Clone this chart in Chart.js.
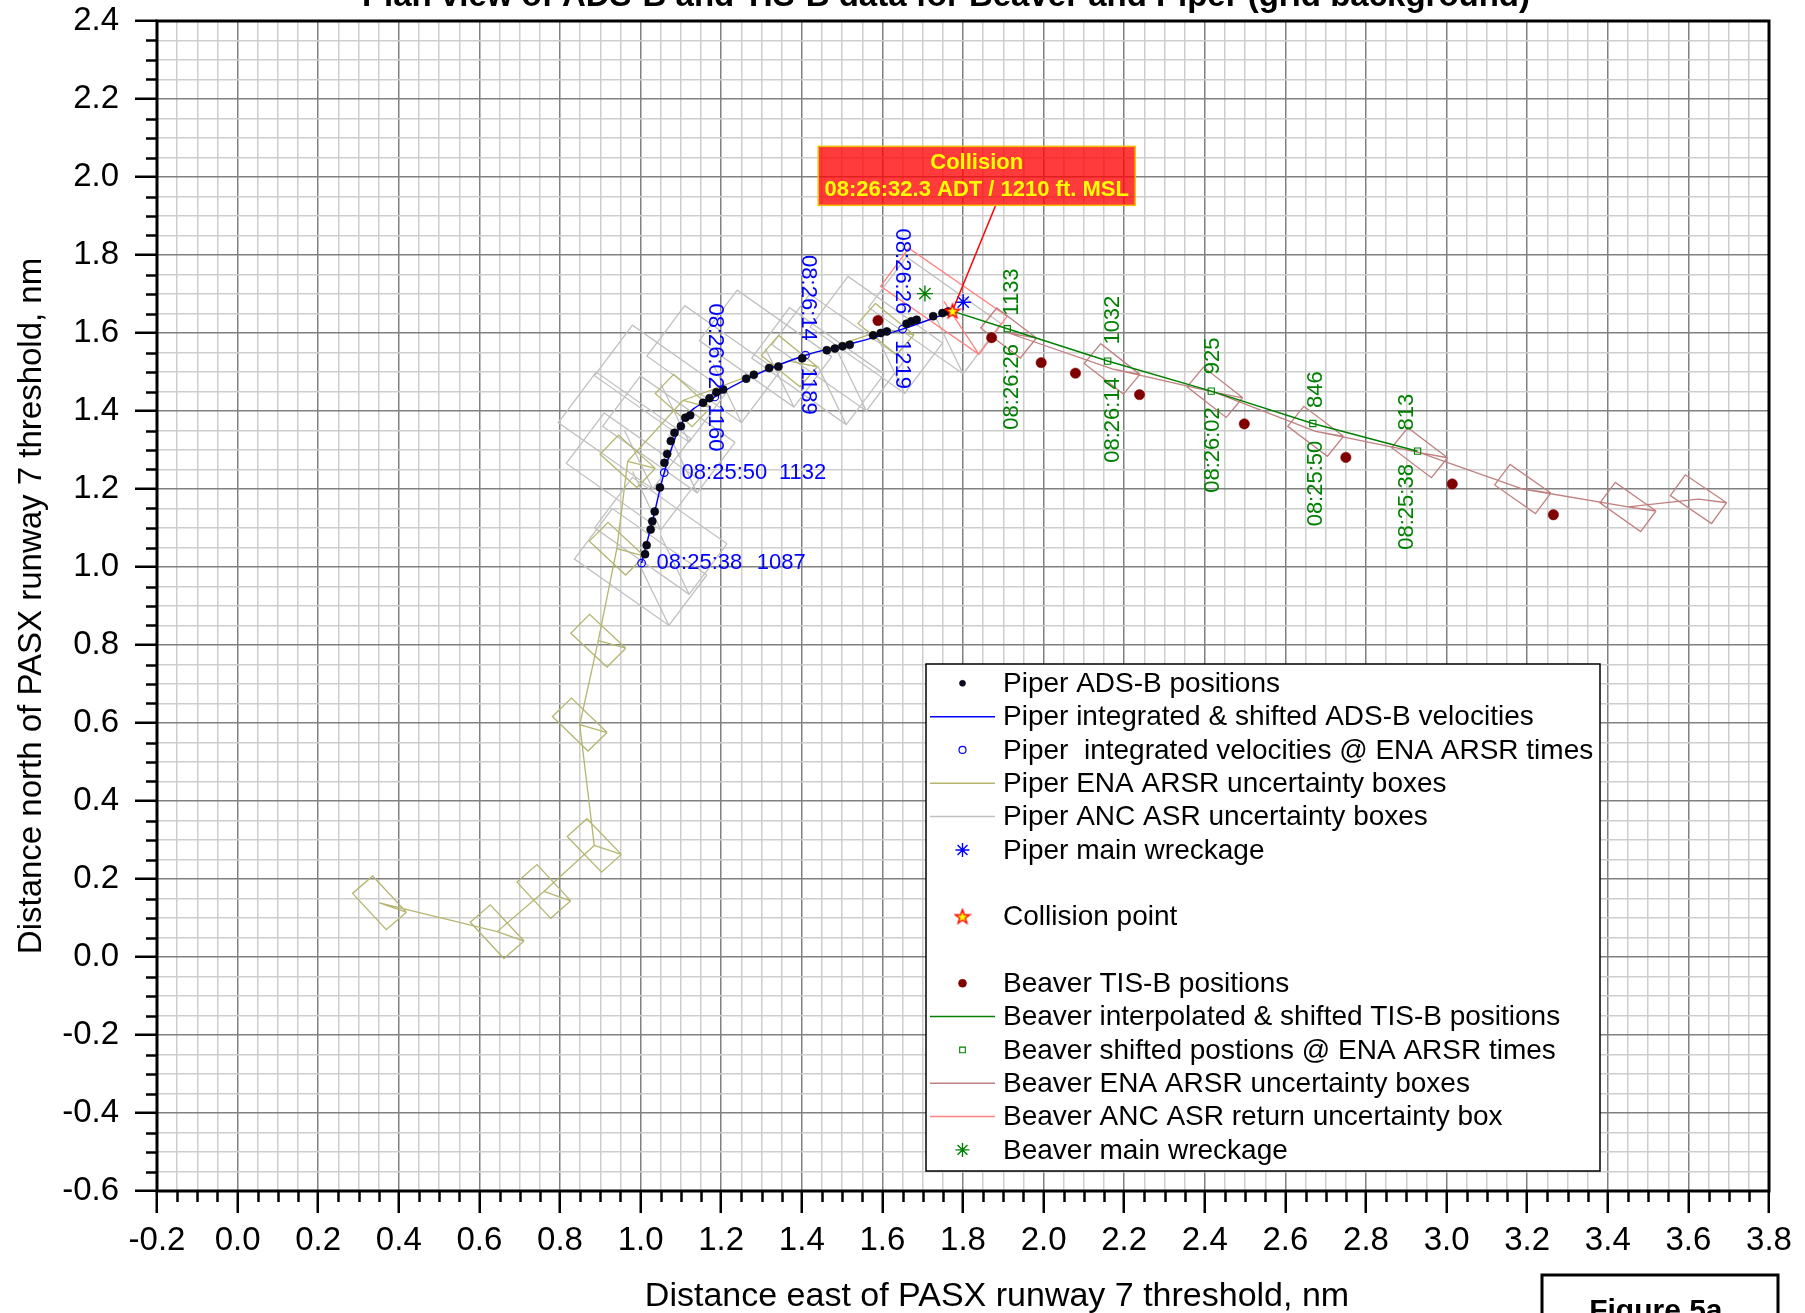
<!DOCTYPE html>
<html>
<head>
<meta charset="utf-8">
<script src="https://cdn.jsdelivr.net/npm/chart.js@4.4.1/dist/chart.umd.min.js"></script>
<style>
  html, body { margin: 0; padding: 0; background: #ffffff; }
  #wrap { width: 1805px; height: 1313px; position: relative; }
</style>
</head>
<body>
<div id="wrap"><canvas id="c" width="1805" height="1313"></canvas></div>
<script>
// ---------- axis ticks (nm) ----------
const xMajorTicks = [-0.2, 0.0, 0.2, 0.4, 0.6, 0.8, 1.0, 1.2, 1.4, 1.6, 1.8, 2.0, 2.2, 2.4, 2.6, 2.8, 3.0, 3.2, 3.4, 3.6, 3.8];
const xTickLabels = ['-0.2','0.0','0.2','0.4','0.6','0.8','1.0','1.2','1.4','1.6','1.8','2.0','2.2','2.4','2.6','2.8','3.0','3.2','3.4','3.6','3.8'];
const yMajorTicks = [-0.6, -0.4, -0.2, 0.0, 0.2, 0.4, 0.6, 0.8, 1.0, 1.2, 1.4, 1.6, 1.8, 2.0, 2.2, 2.4];
const yTickLabels = ['-0.6','-0.4','-0.2','0.0','0.2','0.4','0.6','0.8','1.0','1.2','1.4','1.6','1.8','2.0','2.2','2.4'];

// ---------- Piper ----------
const pipAdsbX = [1.011,1.015,1.025,1.029,1.035,1.048,1.059,1.066,1.075,1.084,1.100,1.111,1.123,1.155,1.171,1.188,1.205,1.262,1.281,1.319,1.342,1.401,1.462,1.482,1.501,1.519,1.577,1.596,1.611,1.660,1.672,1.685,1.726,1.749,1.763];
const pipAdsbY = [1.033,1.056,1.096,1.117,1.142,1.204,1.267,1.290,1.323,1.344,1.361,1.383,1.389,1.421,1.433,1.448,1.455,1.483,1.493,1.510,1.514,1.535,1.556,1.560,1.566,1.570,1.594,1.600,1.604,1.624,1.630,1.634,1.643,1.651,1.655];

const pipVelX = [1.0025, 1.030, 1.0586, 1.100, 1.184, 1.280, 1.409, 1.520, 1.650, 1.774];
const pipVelY = [1.010, 1.120, 1.242, 1.365, 1.436, 1.490, 1.543, 1.572, 1.610, 1.656];

const pipEnaTimeX = [1.0025, 1.0586, 1.184, 1.409, 1.650];
const pipEnaTimeY = [1.010, 1.242, 1.436, 1.543, 1.610];
const pipEnaTimes = ['08:25:38', '08:25:50', '08:26:02', '08:26:14', '08:26:26'];
const pipEnaAlts  = ['1087', '1132', '1160', '1189', '1219'];

const pipEnaBoxX   = [0.352, 0.644, 0.760, 0.885, 0.849, 0.895, 0.941, 0.968, 1.105, 1.369, 1.609];
const pipEnaBoxY   = [0.139, 0.065, 0.168, 0.286, 0.596, 0.811, 1.047, 1.271, 1.427, 1.528, 1.610];
const pipEnaBoxAng = [-48, -48, -48, -47, -45, -44, -44, -43, -43, -40, -40];

const pipAsrBoxX = [1.00, 1.05, 0.98, 0.96, 1.07, 1.05, 1.18, 1.31, 1.44, 1.49, 1.585, 1.73];
const pipAsrBoxY = [1.00, 1.08, 1.245, 1.35, 1.34, 1.47, 1.52, 1.56, 1.515, 1.55, 1.595, 1.645];
const pipAsrBoxAng = [-36, -36, -36, -36, -36, -36, -36, -36, -36, -36, -36, -36];

const pipWreckX = [1.8005], pipWreckY = [1.679];

// ---------- Beaver ----------
const beavTisX = [1.589, 1.871, 1.994, 2.079, 2.238, 2.498, 2.750, 3.014, 3.265];
const beavTisY = [1.632, 1.588, 1.524, 1.497, 1.442, 1.367, 1.281, 1.213, 1.134];

const beavInterpX = [1.774, 1.910, 2.159, 2.416, 2.668, 2.928];
const beavInterpY = [1.656, 1.611, 1.528, 1.451, 1.368, 1.297];

const beavEnaTimeX = [1.910, 2.159, 2.416, 2.668, 2.928];
const beavEnaTimeY = [1.611, 1.528, 1.451, 1.368, 1.297];
const beavEnaTimes = ['08:26:26', '08:26:14', '08:26:02', '08:25:50', '08:25:38'];
const beavEnaAlts  = ['1133', '1032', '925', '846', '813'];

const beavEnaBoxX   = [1.913, 2.170, 2.425, 2.675, 2.933, 3.189, 3.450, 3.625];
const beavEnaBoxY   = [1.600, 1.508, 1.448, 1.348, 1.293, 1.200, 1.154, 1.174];
const beavEnaBoxAng = [-38, -39, -39, -38, -38, -36, -36, -35];

const beavAsrBoxX = [1.7526], beavAsrBoxY = [1.6813], beavAsrBoxAng = [-35.6];

const beavWreckX = [1.7055], beavWreckY = [1.701];

// ---------- collision ----------
const collisionX = [1.774], collisionY = [1.656];
const collisionText = ['Collision', '08:26:32.3 ADT / 1210 ft. MSL'];

// ---------- label placement (nm, text centres) ----------
const pipLabels = {
  timeX: [1.146, 1.208, 1.186, 1.416, 1.650], timeY: [1.010, 1.241, 1.566, 1.690, 1.758],
  altX:  [1.349, 1.402, 1.186, 1.416, 1.650], altY:  [1.010, 1.241, 1.357, 1.451, 1.519],
  rot:   [0, 0, 90, 90, 90]
};
const beavLabels = {
  timeX: [1.921, 2.172, 2.420, 2.677, 2.901], timeY: [1.462, 1.377, 1.300, 1.214, 1.154],
  altX:  [1.921, 2.172, 2.420, 2.677, 2.901], altY:  [1.705, 1.633, 1.5415, 1.455, 1.397],
  rot:   [-90, -90, -90, -90, -90]
};

// ---------- helpers ----------
const FONT = '"Liberation Sans", Arial, Helvetica, sans-serif';
const pts = (xs, ys) => xs.map((x, i) => ({ x: x, y: ys[i] }));
const near = (v, list) => list.findIndex(t => Math.abs(t - v) < 1e-6);

// radar uncertainty box: rectangle about (cx, cy) with its long side at ang degrees,
// plus a spike from the centre to one corner
function boxPath(cx, cy, ang, len, wid, spike) {
  const a = ang * Math.PI / 180;
  const ux = Math.cos(a), uy = Math.sin(a), vx = -uy, vy = ux;
  const hl = len / 2, hw = wid / 2;
  const R = { x: cx + hl * ux + hw * vx, y: cy + hl * uy + hw * vy };
  const B = { x: cx + hl * ux - hw * vx, y: cy + hl * uy - hw * vy };
  const L = { x: cx - hl * ux - hw * vx, y: cy - hl * uy - hw * vy };
  const T = { x: cx - hl * ux + hw * vx, y: cy - hl * uy + hw * vy };
  const tip = spike === 'bottom' ? B : R;
  return [R, B, L, T, R, { x: cx, y: null }, { x: cx, y: cy }, tip, { x: cx, y: null }];
}
function boxSet(xs, ys, angs, len, wid, spike, track) {
  let out = [];
  xs.forEach((x, i) => { out = out.concat(boxPath(x, ys[i], angs[i], len, wid, spike)); });
  if (track) out = out.concat(pts(xs, ys));
  return out;
}

// red-outlined yellow star used for the collision point
const starImg = (() => {
  const c = document.createElement('canvas');
  c.width = 18; c.height = 18;
  const g = c.getContext('2d');
  g.beginPath();
  for (let i = 0; i < 10; i++) {
    const r = i % 2 ? 3.0 : 7.5;
    const a = -Math.PI / 2 + i * Math.PI / 5;
    const px = 9 + r * Math.cos(a), py = 9.5 + r * Math.sin(a);
    if (i) g.lineTo(px, py); else g.moveTo(px, py);
  }
  g.closePath();
  g.fillStyle = '#ffff00'; g.fill();
  g.strokeStyle = '#ff0000'; g.lineWidth = 1.4; g.stroke();
  return c;
})();

const lineDs = (label, data, color, width, extra) => Object.assign({
  label, data, showLine: true, borderColor: color, borderWidth: width,
  pointRadius: 0, fill: false, spanGaps: false, tension: 0
}, extra || {});

const datasets = [
  { label: 'Collision point', data: pts(collisionX, collisionY), pointStyle: starImg, pointRadius: 8 },
  { label: 'Piper main wreckage', data: pts(pipWreckX, pipWreckY), pointStyle: 'star', pointRadius: 8,
    borderColor: '#0000ff', borderWidth: 1.4 },
  { label: 'Beaver main wreckage', data: pts(beavWreckX, beavWreckY), pointStyle: 'star', pointRadius: 8,
    borderColor: '#008000', borderWidth: 1.4 },
  { label: 'Piper ADS-B positions', data: pts(pipAdsbX, pipAdsbY), pointStyle: 'circle', pointRadius: 4,
    backgroundColor: '#0a0a1e', borderColor: '#000000', borderWidth: 0.6 },
  { label: 'Piper  integrated velocities @ ENA ARSR times', data: pts(pipEnaTimeX, pipEnaTimeY), pointStyle: 'circle',
    pointRadius: 3.8, backgroundColor: 'rgba(0,0,0,0)', borderColor: '#0000ff', borderWidth: 1.2 },
  lineDs('Piper integrated & shifted ADS-B velocities', pts(pipVelX, pipVelY), '#0000ff', 1.5,
    { cubicInterpolationMode: 'monotone' }),
  { label: 'Beaver shifted postions @ ENA ARSR times', data: pts(beavEnaTimeX, beavEnaTimeY), pointStyle: 'rect',
    pointRadius: 4.4, backgroundColor: 'rgba(0,0,0,0)', borderColor: '#008000', borderWidth: 1.1 },
  lineDs('Beaver interpolated & shifted TIS-B positions', pts(beavInterpX, beavInterpY), '#008000', 1.5),
  { label: 'Beaver TIS-B positions', data: pts(beavTisX, beavTisY), pointStyle: 'circle', pointRadius: 5.2,
    backgroundColor: '#800000', borderColor: '#800000', borderWidth: 0.5 },
  lineDs('Beaver ENA ARSR uncertainty boxes',
    boxSet(beavEnaBoxX, beavEnaBoxY, beavEnaBoxAng, 0.125, 0.065, 'right', true), 'rgb(192,128,128)', 1.3),
  lineDs('Beaver ANC ASR return uncertainty box',
    boxSet(beavAsrBoxX, beavAsrBoxY, beavAsrBoxAng, 0.30, 0.12, 'bottom', false), 'rgb(255,128,128)', 1.3),
  lineDs('Piper ENA ARSR uncertainty boxes',
    boxSet(pipEnaBoxX, pipEnaBoxY, pipEnaBoxAng, 0.125, 0.067, 'right', true), 'rgb(181,181,112)', 1.3),
  lineDs('Piper ANC ASR uncertainty boxes',
    boxSet(pipAsrBoxX, pipAsrBoxY, pipAsrBoxAng, 0.29, 0.16, 'bottom', false), 'rgb(192,192,192)', 1.3)
];

const legendRows = [
  'Piper ADS-B positions',
  'Piper integrated & shifted ADS-B velocities',
  'Piper  integrated velocities @ ENA ARSR times',
  'Piper ENA ARSR uncertainty boxes',
  'Piper ANC ASR uncertainty boxes',
  'Piper main wreckage',
  null,
  'Collision point',
  null,
  'Beaver TIS-B positions',
  'Beaver interpolated & shifted TIS-B positions',
  'Beaver shifted postions @ ENA ARSR times',
  'Beaver ENA ARSR uncertainty boxes',
  'Beaver ANC ASR return uncertainty box',
  'Beaver main wreckage'
];
// marker sizes used inside the legend box
const legendRadius = {
  'Piper ADS-B positions': 3, 'Beaver TIS-B positions': 4, 'Piper main wreckage': 7,
  'Beaver main wreckage': 7, 'Beaver shifted postions @ ENA ARSR times': 4,
  'Piper  integrated velocities @ ENA ARSR times': 3.5, 'Collision point': 8
};

function drawMarker(ctx, ds, x, y, r) {
  const opts = { pointStyle: ds.pointStyle, rotation: 0, radius: r, borderWidth: ds.borderWidth || 1 };
  ctx.save();
  ctx.fillStyle = ds.backgroundColor || 'rgba(0,0,0,0)';
  ctx.strokeStyle = ds.borderColor || '#000';
  ctx.lineWidth = ds.borderWidth || 1;
  Chart.helpers.drawPoint(ctx, opts, x, y);
  ctx.restore();
}

const decor = {
  id: 'decor',
  afterDatasetsDraw(chart) {
    const ctx = chart.ctx, xs = chart.scales.x, ys = chart.scales.y;
    const put = (txt, x, y, rot, color) => {
      ctx.save();
      ctx.translate(xs.getPixelForValue(x), ys.getPixelForValue(y));
      ctx.rotate(rot * Math.PI / 180);
      ctx.fillStyle = color;
      ctx.font = '22px ' + FONT;
      ctx.textAlign = 'center';
      ctx.textBaseline = 'middle';
      ctx.fillText(txt, 0, 0);
      ctx.restore();
    };
    pipEnaTimes.forEach((t, i) => {
      put(t, pipLabels.timeX[i], pipLabels.timeY[i], pipLabels.rot[i], '#0000ff');
      put(pipEnaAlts[i], pipLabels.altX[i], pipLabels.altY[i], pipLabels.rot[i], '#0000ff');
    });
    beavEnaTimes.forEach((t, i) => {
      put(t, beavLabels.timeX[i], beavLabels.timeY[i], beavLabels.rot[i], '#008000');
      put(beavEnaAlts[i], beavLabels.altX[i], beavLabels.altY[i], beavLabels.rot[i], '#008000');
    });
  },
  afterDraw(chart) {
    const ctx = chart.ctx, a = chart.chartArea, xs = chart.scales.x, ys = chart.scales.y;

    // minor tick marks
    ctx.save();
    ctx.strokeStyle = '#000'; ctx.lineWidth = 2.5;
    xs.ticks.forEach(t => {
      if (near(t.value, xMajorTicks) >= 0) return;
      const px = Math.round(xs.getPixelForValue(t.value)) + 0.5;
      ctx.beginPath(); ctx.moveTo(px, a.bottom); ctx.lineTo(px, a.bottom + 11); ctx.stroke();
    });
    ys.ticks.forEach(t => {
      if (near(t.value, yMajorTicks) >= 0) return;
      const py = Math.round(ys.getPixelForValue(t.value)) + 0.5;
      ctx.beginPath(); ctx.moveTo(a.left, py); ctx.lineTo(a.left - 11, py); ctx.stroke();
    });
    // plot frame
    ctx.lineWidth = 3;
    ctx.strokeRect(a.left, a.top, a.right - a.left, a.bottom - a.top);
    ctx.restore();

    // titles
    ctx.save();
    ctx.fillStyle = '#000';
    ctx.textAlign = 'center';
    ctx.textBaseline = 'alphabetic';
    ctx.font = 'bold 33px ' + FONT;
    ctx.fillText('Plan view of ADS-B and TIS-B data for Beaver and Piper (grid background)', 946, 6);
    ctx.font = '34px ' + FONT;
    ctx.fillText('Distance east of PASX runway 7 threshold, nm', 997, 1306);
    ctx.font = '33px ' + FONT;
    ctx.save();
    ctx.translate(41, (a.top + a.bottom) / 2);
    ctx.rotate(-Math.PI / 2);
    ctx.fillText('Distance north of PASX runway 7 threshold, nm', 0, 0);
    ctx.restore();
    ctx.restore();

    // figure tag
    ctx.save();
    ctx.fillStyle = '#fff';
    ctx.fillRect(1542, 1275, 236, 60);
    ctx.strokeStyle = '#000'; ctx.lineWidth = 3;
    ctx.strokeRect(1542, 1275, 236, 60);
    ctx.fillStyle = '#000';
    ctx.font = 'bold 30px ' + FONT;
    ctx.textAlign = 'center';
    ctx.fillText('Figure 5a.', 1660, 1320);
    ctx.restore();

    // collision call-out
    const cpx = xs.getPixelForValue(collisionX[0]), cpy = ys.getPixelForValue(collisionY[0]);
    const bx = xs.getPixelForValue(1.834), by = ys.getPixelForValue(2.003);
    const bw = 317, bh = 59;
    ctx.save();
    ctx.strokeStyle = '#ff0000'; ctx.lineWidth = 1.5;
    ctx.beginPath(); ctx.moveTo(bx + 19, by + bh / 2); ctx.lineTo(cpx + 1, cpy - 3); ctx.stroke();
    ctx.fillStyle = 'rgba(255,0,0,0.77)';
    ctx.fillRect(bx - bw / 2, by - bh / 2, bw, bh);
    ctx.strokeStyle = '#f0c000'; ctx.lineWidth = 1.5;
    ctx.strokeRect(bx - bw / 2, by - bh / 2, bw, bh);
    ctx.fillStyle = '#ffff00';
    ctx.font = 'bold 22px ' + FONT;
    ctx.textAlign = 'center'; ctx.textBaseline = 'middle';
    ctx.fillText(collisionText[0], bx, by - 13);
    ctx.fillText(collisionText[1], bx, by + 14);
    ctx.restore();

    // legend
    const lx = 926, ly = 664, lw = 674, lh = 507, rowH = 33.33;
    ctx.save();
    ctx.fillStyle = '#fff';
    ctx.fillRect(lx, ly, lw, lh);
    ctx.strokeStyle = '#000'; ctx.lineWidth = 1.5;
    ctx.strokeRect(lx, ly, lw, lh);
    ctx.font = '28px ' + FONT;
    ctx.textBaseline = 'middle';
    ctx.textAlign = 'left';
    legendRows.forEach((lab, i) => {
      if (!lab) return;
      const ry = ly + 19.3 + i * rowH;
      const ds = chart.data.datasets.find(d => d.label === lab);
      if (ds.showLine && !ds.pointRadius) {
        ctx.strokeStyle = ds.borderColor; ctx.lineWidth = 1.5;
        ctx.beginPath(); ctx.moveTo(lx + 4, ry); ctx.lineTo(lx + 69, ry); ctx.stroke();
      } else {
        drawMarker(ctx, ds, lx + 36.5, ry, legendRadius[lab] || ds.pointRadius);
      }
      ctx.fillStyle = '#000';
      ctx.fillText(lab, lx + 77, ry + 1);
    });
    ctx.restore();
  }
};

const isMajorX = v => near(v, xMajorTicks) >= 0;
const isMajorY = v => near(v, yMajorTicks) >= 0;

new Chart(document.getElementById('c'), {
  type: 'scatter',
  data: { datasets },
  options: {
    responsive: false,
    animation: false,
    events: [],
    layout: { padding: { left: 0, top: 21, right: 36, bottom: 0 } },
    plugins: { legend: { display: false }, tooltip: { enabled: false }, title: { display: false } },
    scales: {
      x: {
        type: 'linear', position: 'bottom', min: -0.2, max: 3.8,
        afterFit: s => { s.height = 122; s.paddingLeft = 0; s.paddingRight = 0; },
        border: { display: false },
        grid: {
          color: c => isMajorX(c.tick.value) ? 'rgb(128,128,128)' : 'rgb(205,205,205)',
          lineWidth: 1.5, drawTicks: true, tickLength: 22, tickWidth: 2.5,
          tickColor: c => isMajorX(c.tick.value) ? '#000000' : 'rgba(0,0,0,0)'
        },
        ticks: {
          stepSize: 0.05, autoSkip: false, maxRotation: 0, minRotation: 0, padding: 8,
          color: '#000', font: { family: FONT, size: 33 },
          callback: v => { const k = near(v, xMajorTicks); return k >= 0 ? xTickLabels[k] : ''; }
        }
      },
      y: {
        type: 'linear', position: 'left', min: -0.6, max: 2.4,
        afterFit: s => { s.width = 157; s.paddingTop = 0; s.paddingBottom = 0; },
        border: { display: false },
        grid: {
          color: c => isMajorY(c.tick.value) ? 'rgb(128,128,128)' : 'rgb(205,205,205)',
          lineWidth: 1.5, drawTicks: true, tickLength: 22, tickWidth: 2.5,
          tickColor: c => isMajorY(c.tick.value) ? '#000000' : 'rgba(0,0,0,0)'
        },
        ticks: {
          stepSize: 0.05, autoSkip: false, padding: 16,
          color: '#000', font: { family: FONT, size: 33 },
          callback: v => { const k = near(v, yMajorTicks); return k >= 0 ? yTickLabels[k] : ''; }
        }
      }
    }
  },
  plugins: [decor]
});
</script>
</body>
</html>
